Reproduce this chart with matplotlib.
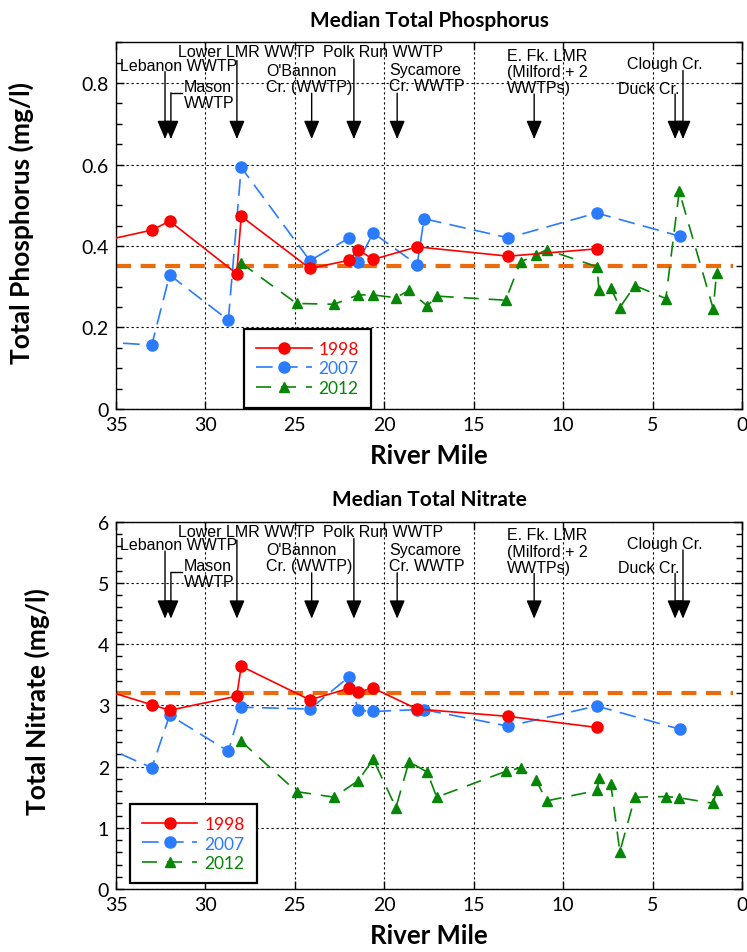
import matplotlib.pyplot as plt
from matplotlib.ticker import MultipleLocator

plt.rcParams['font.family'] = ['Lato', 'DejaVu Sans']

# river miles of the sites (the point past mile 35 only carries the line into the frame)
x_1998 = [36.0, 33.0, 32.0, 28.25, 28.0, 24.16, 21.96, 21.46, 20.62, 18.16, 13.07, 8.13]
x_2007 = [36.0, 33.0, 32.0, 28.72, 28.0, 24.16, 21.96, 21.46, 20.62, 18.16, 17.78,
          13.07, 8.13, 3.47]
x_2012 = [28.03, 24.9, 22.81, 21.46, 20.62, 19.35, 18.62, 17.6, 17.07, 13.22, 12.38,
          11.52, 10.92, 8.1, 8.0, 7.34, 6.83, 5.99, 4.26, 3.51, 1.61, 1.42]

# median total phosphorus (mg/l)
tp_1998 = [0.41, 0.439, 0.461, 0.332, 0.473, 0.345, 0.365, 0.391, 0.367, 0.398, 0.375, 0.393]
tp_2007 = [0.165, 0.157, 0.329, 0.218, 0.593, 0.364, 0.42, 0.361, 0.432, 0.354, 0.467,
           0.42, 0.481, 0.424]
tp_2012 = [0.359, 0.259, 0.257, 0.28, 0.28, 0.273, 0.291, 0.253, 0.277, 0.267, 0.361,
           0.378, 0.391, 0.349, 0.292, 0.298, 0.249, 0.303, 0.271, 0.534, 0.246, 0.334]
tp_target = 0.35

# median total nitrate (mg/l)
no3_1998 = [3.28, 3.01, 2.92, 3.15, 3.64, 3.09, 3.28, 3.22, 3.28, 2.94, 2.82, 2.64]
no3_2007 = [2.37, 1.98, 2.84, 2.25, 2.97, 2.94, 3.47, 2.92, 2.90, 2.93, 2.93, 2.66, 2.99, 2.61]
no3_2012 = [2.42, 1.59, 1.50, 1.77, 2.12, 1.33, 2.08, 1.91, 1.50, 1.92, 1.98, 1.78, 1.44,
            1.61, 1.81, 1.72, 0.61, 1.50, 1.51, 1.49, 1.40, 1.61]
no3_target = 3.2

# discharges along the river
sources = ['Lebanon WWTP', 'Mason\nWWTP', 'Lower LMR WWTP', "O'Bannon\nCr. (WWTP)",
           'Polk Run WWTP', 'Sycamore\nCr. WWTP', 'E. Fk. LMR\n(Milford + 2\nWWTPs)',
           'Clough Cr.', 'Duck Cr.']
source_miles = [32.26, 31.93, 28.24, 24.06, 21.7, 19.28, 11.62, 3.3, 3.74]

# label placement: text left (river mile), text centre and stem top (axes fraction)
text_x = [34.78, 31.2, 31.53, 26.62, 23.41, 19.72, 13.16, 6.42, 6.92]
text_y = [0.938, 0.858, 0.974, 0.902, 0.974, 0.903, 0.920, 0.941, 0.875]
stem_top = [0.920, 0.862, 0.950, 0.861, 0.954, 0.861, 0.859, 0.923, 0.859]

RED = '#ff0000'
BLUE = '#2a7bff'
GREEN = '#078507'
ORANGE = '#ea6a0c'


def draw(ax, v98, v07, v12, target, title, ylabel):
    ax.hlines(target, 35, 0.5, color=ORANGE, lw=3, ls=(0, (3.6, 2.3)), zorder=2)
    ax.plot(x_1998, v98, color=RED, lw=1.2, marker='o', ms=8, label='1998', zorder=4)
    ax.plot(x_2007, v07, color=BLUE, lw=1.2, ls=(0, (10, 5)), marker='o', ms=8,
            label='2007', zorder=3)
    ax.plot(x_2012, v12, color=GREEN, lw=1.2, ls=(0, (9, 6)), marker='^', ms=7.5,
            label='2012', zorder=3)

    for name, mile, tx, ty, st in zip(sources, source_miles, text_x, text_y, stem_top):
        ax.text(tx, ty, name, transform=ax.get_xaxis_transform(), ha='left', va='center',
                family='Liberation Sans', fontsize=11.5, linespacing=1.1, zorder=5)
        ax.annotate('', xy=(mile, 0.736), xycoords=('data', 'axes fraction'),
                    xytext=(mile, st), textcoords=('data', 'axes fraction'),
                    arrowprops=dict(arrowstyle='-|>,head_length=0.95,head_width=0.4',
                                    fc='black', ec='black', lw=1, shrinkA=0, shrinkB=0,
                                    mutation_scale=12))
    # little leader from the Mason label to its arrow
    ax.plot([31.93, 31.33], [0.862, 0.862], transform=ax.get_xaxis_transform(),
            color='black', lw=1)

    ax.set_xlim(35, 0)
    ax.xaxis.set_major_locator(MultipleLocator(5))
    ax.grid(True, which='major', color='black', ls=(0, (2, 2.5)), lw=0.8)
    ax.tick_params(which='both', direction='in', top=True, right=True, labelsize=14,
                   width=1, pad=5)
    ax.tick_params(which='major', length=6)
    ax.tick_params(which='minor', length=4.5)
    for s in ax.spines.values():
        s.set_linewidth(1)

    ax.set_title(title, fontsize=15, fontweight='bold', pad=12)
    ax.set_xlabel('River Mile', fontsize=18.5, fontweight='bold', labelpad=7)
    ax.set_ylabel(ylabel, fontsize=19, fontweight='bold')

    leg = ax.legend(fontsize=12.5, frameon=True, fancybox=False, framealpha=1,
                    edgecolor='black', handlelength=3.2, handletextpad=0.4,
                    borderpad=0.7, labelspacing=0.2, borderaxespad=0)
    leg.get_frame().set_linewidth(1.6)
    for txt, c in zip(leg.get_texts(), [RED, BLUE, GREEN]):
        txt.set_color(c)
    return leg


fig = plt.figure(figsize=(7.47, 9.53), dpi=100)
ax1 = fig.add_axes([0.1553, 0.5698, 0.838, 0.3848])
ax2 = fig.add_axes([0.1553, 0.0661, 0.838, 0.3854])

leg1 = draw(ax1, tp_1998, tp_2007, tp_2012, tp_target, 'Median Total Phosphorus',
            'Total Phosphorus (mg/l)')
ax1.set_ylim(0, 0.9)
ax1.set_yticks([0, 0.2, 0.4, 0.6, 0.8])
ax1.set_yticklabels(['0', '0.2', '0.4', '0.6', '0.8'])
ax1.yaxis.set_minor_locator(MultipleLocator(0.05))
ax1.yaxis.set_label_coords(-0.131, 0.51)
leg1.set_bbox_to_anchor((0.2045, 0.003), transform=ax1.transAxes)
leg1._loc = 3

leg2 = draw(ax2, no3_1998, no3_2007, no3_2012, no3_target, 'Median Total Nitrate',
            'Total Nitrate (mg/l)')
ax2.set_ylim(0, 6)
ax2.yaxis.set_major_locator(MultipleLocator(1))
ax2.yaxis.set_minor_locator(MultipleLocator(0.2))
ax2.yaxis.set_label_coords(-0.105, 0.513)
leg2.set_bbox_to_anchor((0.022, 0.016), transform=ax2.transAxes)
leg2._loc = 3

fig.savefig('out.png', dpi=100)
